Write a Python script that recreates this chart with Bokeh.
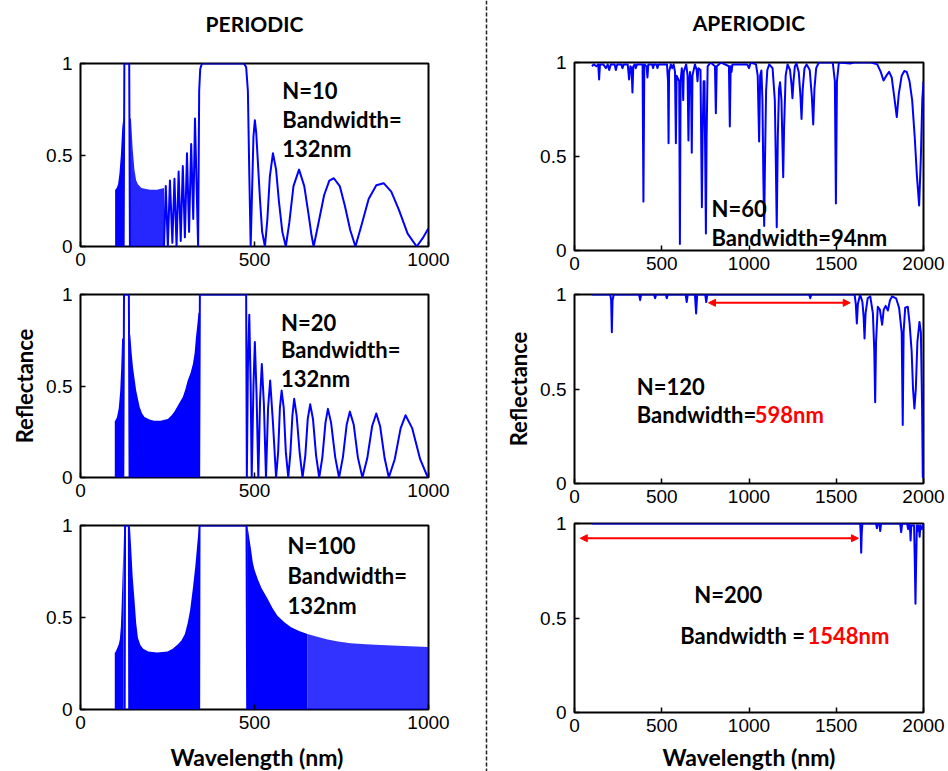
from bokeh.plotting import figure
from bokeh.layouts import row, column
from bokeh.models import (Range1d, FixedTicker, LinearAxis, Label, Arrow,
                          NormalHead, Span)
from bokeh.embed import file_html
from bokeh.resources import INLINE

nan = float("nan")
BLUE = "#0000ff"
RED = "#ff0000"
TICK_FONT = "Liberation Sans"
TXT_FONT = "Lato"

# ---------------- data ----------------
L_XTICKS = [0, 500, 1000]
R_XTICKS = [0, 500, 1000, 1500, 2000]
Y_TICKS = [0, 0.5, 1]

# Periodic N=10
P10_fill1_x = [99.5, 100, 104, 108, 112, 116, 120, 123, 124]
P10_fill1_y = [0.31, 0.31, 0.32, 0.34, 0.40, 0.50, 0.65, 0.70, 0.70]
P10_fill2_x = [142, 145, 150, 155, 160, 165, 175, 185, 200, 220, 240]
P10_fill2_y = [0.70, 0.70, 0.53, 0.42, 0.36, 0.34, 0.32, 0.315, 0.31, 0.31, 0.32]
P10_line_x = [124, 126, 140, 142, nan,
              240, 245, 251, 257, 264, 270, 276, 282, 288, 294, 300, 306, 312, 318, 324, 329, 334, 338,
              341, 344, 349, 470, 476, 481, 485, 489,
              493, 497, 501, 505, 510, 516, 522, 530,
              537, 544, 553, 562, 570, 580, 590,
              600, 612, 628, 643, 655, 664, 670,
              683, 700, 715, 728, 745, 760, 775, 790,
              808, 828, 850, 871, 893, 915, 940, 966,
              985, 1000]
P10_line_y = [0, 1, 1, 0, nan,
              0, 0.33, 0, 0.36, 0.02, 0.37, 0, 0.41, 0.03, 0.44, 0.05, 0.51, 0.08, 0.56, 0.15, 0.70, 0.3, 0,
              0.85, 0.97, 1, 1, 0.98, 0.85, 0.4, 0,
              0.3, 0.6, 0.69, 0.62, 0.45, 0.25, 0.08, 0,
              0.15, 0.38, 0.51, 0.42, 0.25, 0.08, 0,
              0.13, 0.33, 0.42, 0.33, 0.18, 0.06, 0,
              0.12, 0.28, 0.36, 0.373, 0.33, 0.22, 0.09, 0,
              0.12, 0.26, 0.335, 0.346, 0.3, 0.2, 0.07, 0,
              0.05, 0.1]

# Periodic N=20
P20_fill1_x = [98.5, 100, 105, 110, 114, 117, 119.5, 122]
P20_fill1_y = [0.31, 0.31, 0.33, 0.38, 0.47, 0.60, 0.76, 0.76]
P20_fill2_x = [141, 143, 147, 151, 156, 160, 165, 170, 177, 184, 200, 212, 230, 251, 262, 270,
               282, 294, 301, 308, 316, 323, 328, 332, 336, 339, 341]
P20_fill2_y = [0.78, 0.78, 0.68, 0.60, 0.53, 0.475, 0.43, 0.385, 0.35, 0.33, 0.315, 0.31, 0.31, 0.32,
               0.34, 0.36, 0.40, 0.44, 0.48, 0.53, 0.57, 0.62, 0.68, 0.77, 0.84, 0.90, 0.90]
P20_line_x = [123, 125, 139, 141, nan,
              341, 343, 476, 478, 481, 485, 489, 492, 497, 501, 506, 511, 516, 521, 527, 533,
              539, 545, 553, 562, 568, 573, 578, 584, 590, 597, 603, 609, 614, 621, 630, 638,
              646, 653, 660, 668, 677, 686, 695, 704, 711, 720, 732, 743, 754, 765, 774, 785,
              797, 810, 824, 838, 850, 861, 874, 886, 903, 920, 934, 953, 976, 998, 1000]
P20_line_y = [0, 1, 1, 0, nan,
              0, 1, 1, 0, 0.6, 0.89, 0.5, 0, 0.5, 0.74, 0.45, 0, 0.42, 0.62, 0.4, 0,
              0.38, 0.53, 0.3, 0, 0.14, 0.38, 0.475, 0.38, 0.14, 0, 0.13, 0.34, 0.43, 0.34, 0.13, 0,
              0.12, 0.32, 0.40, 0.32, 0.12, 0, 0.11, 0.30, 0.375, 0.30, 0.11, 0, 0.11, 0.29, 0.36, 0.29,
              0.11, 0, 0.105, 0.28, 0.35, 0.28, 0.105, 0, 0.10, 0.27, 0.34, 0.27, 0.10, 0, 0]

# Periodic N=100
P100_fill1_x = [98.5, 100, 106, 110, 113, 116, 118, 120, 122, 124]
P100_fill1_y = [0.31, 0.31, 0.335, 0.355, 0.38, 0.45, 0.55, 0.67, 0.80, 0.95]
P100_fill2_x = [140, 142, 145, 150, 155, 160, 165, 172, 180, 195, 220, 250, 265, 280, 290, 300,
                308, 315, 323, 330, 337, 341]
P100_fill2_y = [1.0, 1.0, 0.9, 0.72, 0.6, 0.47, 0.39, 0.35, 0.33, 0.315, 0.31, 0.315, 0.33, 0.355,
                0.375, 0.41, 0.47, 0.54, 0.66, 0.78, 0.93, 1.0]
P100_fill3_x = [479, 482, 486, 490, 495, 500, 509, 520, 538, 552, 566, 585, 605, 630, 652]
P100_fill3_y = [1.0, 0.97, 0.92, 0.87, 0.8, 0.76, 0.71, 0.66, 0.60, 0.55, 0.51, 0.475, 0.447, 0.425, 0.41]
P100_fill4_x = [652, 680, 710, 740, 776, 820, 862, 930, 1000]
P100_fill4_y = [0.41, 0.395, 0.38, 0.37, 0.36, 0.355, 0.35, 0.345, 0.34]
P100_line_x = [127, 128, 139, 140, nan, 341, 342, 477, 479]
P100_line_y = [0, 1, 1, 0, nan, 0, 1, 1, 0]

# Aperiodic N=60 (wavelength, reflectance)
A60_points = [
    (100, 0.98), (110, 0.99), (125, 0.98), (136, 0.99), (141, 0.91), (146, 0.99), (165, 0.99),
    (180, 0.97), (190, 0.99), (199, 0.96), (208, 0.99), (230, 0.99), (237, 0.96), (245, 0.99),
    (268, 0.99), (275, 0.97), (282, 0.99), (305, 0.99), (313, 0.91), (320, 0.98), (327, 0.97),
    (332, 0.84), (337, 0.98), (345, 0.99), (351, 0.97), (358, 0.99), (390, 0.99), (395, 0.26),
    (400, 0.99), (413, 0.98), (418, 0.92), (423, 0.99), (445, 0.99), (450, 0.97), (456, 0.99),
    (470, 0.99), (475, 0.97), (482, 0.99), (530, 0.99), (536, 0.9), (539, 0.57), (542, 0.95),
    (552, 0.99), (560, 0.97), (568, 0.99), (576, 0.95), (581, 0.57), (585, 0.93), (600, 0.9),
    (604, 0.035), (608, 0.9), (615, 0.97), (620, 0.9), (623, 0.80), (626, 0.95), (640, 0.99),
    (648, 0.93), (653, 0.585), (658, 0.9), (662, 0.95), (668, 0.9), (672, 0.52), (676, 0.93),
    (690, 0.99), (700, 0.96), (705, 0.90), (710, 0.97), (722, 0.96), (727, 0.5), (730, 0.23),
    (734, 0.6), (740, 0.9), (745, 0.9), (750, 0.4), (753, 0.09), (757, 0.6), (763, 0.98),
    (780, 1.0), (805, 0.98), (810, 0.73), (815, 0.98), (840, 1.0), (885, 0.98), (890, 0.66),
    (895, 0.98), (900, 0.95), (905, 0.99), (990, 0.99), (1000, 0.97), (1010, 1.0), (1040, 0.99),
    (1050, 0.93), (1058, 0.58), (1064, 0.93), (1071, 0.957), (1077, 0.8), (1082, 0.4),
    (1087, 0.13), (1092, 0.5), (1098, 0.85), (1105, 0.96), (1116, 0.99), (1135, 0.97),
    (1148, 0.8), (1154, 0.45), (1159, 0.124), (1165, 0.6), (1172, 0.86), (1178, 0.895),
    (1186, 0.8), (1192, 0.55), (1196, 0.39), (1201, 0.65), (1210, 0.93), (1221, 0.99),
    (1235, 0.96), (1244, 0.88), (1249, 0.81), (1255, 0.9), (1263, 0.98), (1272, 0.995),
    (1285, 0.95), (1295, 0.82), (1301, 0.70), (1308, 0.86), (1318, 0.97), (1330, 0.99),
    (1348, 0.96), (1360, 0.82), (1368, 0.67), (1375, 0.86), (1385, 0.97), (1400, 1.0),
    (1480, 1.0), (1492, 0.9), (1498, 0.25), (1504, 0.9), (1515, 1.0), (1580, 0.995),
    (1600, 1.0), (1700, 1.0), (1735, 0.99), (1755, 0.95), (1771, 0.904), (1787, 0.93),
    (1803, 0.95), (1818, 0.92), (1832, 0.82), (1847, 0.71), (1858, 0.83), (1875, 0.93),
    (1890, 0.955), (1904, 0.95), (1920, 0.9), (1935, 0.8), (1950, 0.6), (1962, 0.4),
    (1975, 0.24), (1985, 0.5), (1993, 0.8), (2000, 0.90)]

# Aperiodic N=120
A120_points = [
    (100, 1.0), (205, 1.0), (210, 0.97), (214, 0.80), (218, 0.97), (225, 1.0), (370, 1.0),
    (376, 0.97), (382, 1.0), (455, 1.0), (462, 0.98), (468, 1.0), (523, 1.0), (529, 0.98),
    (535, 1.0), (637, 1.0), (643, 0.96), (649, 1.0), (690, 1.0), (697, 0.90), (703, 1.0),
    (749, 1.0), (755, 0.96), (761, 1.0), (1345, 1.0), (1351, 0.98), (1357, 1.0), (1605, 1.0),
    (1612, 0.95), (1618, 0.847), (1624, 0.95), (1637, 1.0), (1650, 0.96), (1657, 0.88),
    (1662, 0.767), (1668, 0.9), (1680, 0.98), (1695, 0.99), (1710, 0.9), (1718, 0.7),
    (1723, 0.43), (1728, 0.75), (1738, 0.935), (1750, 0.92), (1763, 0.84), (1772, 0.92),
    (1783, 0.94), (1796, 0.915), (1808, 0.97), (1820, 0.99), (1843, 0.98), (1860, 0.93),
    (1875, 0.8), (1881, 0.31), (1886, 0.8), (1895, 0.93), (1910, 0.935), (1920, 0.85),
    (1932, 0.7), (1940, 0.5), (1948, 0.397), (1956, 0.5), (1965, 0.75), (1977, 0.855),
    (1985, 0.8), (1992, 0.4), (1996, 0.035), (2000, 0.03)]

# Aperiodic N=200
A200_points = [
    (100, 1.0), (1637, 1.0), (1640, 0.95), (1643, 0.845), (1646, 0.95), (1650, 1.0),
    (1728, 1.0), (1733, 0.975), (1738, 1.0), (1747, 1.0), (1752, 0.96), (1757, 1.0),
    (1866, 1.0), (1872, 0.954), (1878, 1.0), (1906, 1.0), (1912, 0.97), (1917, 1.0),
    (1922, 0.99), (1926, 0.91), (1930, 0.99), (1946, 0.99), (1950, 0.8), (1954, 0.575),
    (1958, 0.8), (1962, 0.99), (1966, 0.96), (1970, 0.99), (1975, 0.97), (1978, 0.93),
    (1982, 0.99), (1990, 0.97), (2000, 1.0)]

# Bandwidth arrows (wavelength span, reflectance level)
A120_arrow_x = [768, 1580]
A120_arrow_y = 0.956
A200_arrow_x = [33, 1627]
A200_arrow_y = 0.922

# frame borders (pixels) of the two columns
L_ML, L_MR = 80, 56
R_ML, R_MR = 86, 25


# ---------------- helpers ----------------
def panel(w, h, ml, mr, mt, mb, xmax, xticks):
    p = figure(width=w, height=h, x_range=Range1d(0, xmax), y_range=Range1d(0, 1),
               output_backend="svg", toolbar_location=None,
               min_border_left=ml, min_border_right=mr,
               min_border_top=mt, min_border_bottom=mb)
    p.xgrid.visible = False
    p.ygrid.visible = False
    p.outline_line_color = "black"
    p.outline_line_width = 2
    p.outline_line_alpha = 1
    p.background_fill_color = "white"
    p.border_fill_color = "white"
    p.xaxis.ticker = FixedTicker(ticks=xticks)
    p.yaxis.ticker = FixedTicker(ticks=Y_TICKS)
    for ax in (p.xaxis[0], p.yaxis[0]):
        ax.axis_line_color = None
        ax.major_tick_in = 5
        ax.major_tick_out = 0
        ax.major_tick_line_width = 1.5
        ax.minor_tick_line_color = None
        ax.major_label_text_font = TICK_FONT
        ax.major_label_text_font_size = "19px"
        ax.major_label_text_color = "black"
        ax.axis_label_text_font = TXT_FONT
        ax.axis_label_text_font_size = "22px"
        ax.axis_label_text_font_style = "bold"
        ax.axis_label_text_color = "black"
    p.xaxis.major_label_standoff = 6
    p.yaxis.major_label_standoff = 8
    return p


def strip(w, h, ml, mr):
    # plain text strip below a column; x range is in the column's pixel units
    f = figure(width=w, height=h, x_range=Range1d(ml, w - mr), y_range=Range1d(0, h),
               output_backend="svg", toolbar_location=None,
               min_border_left=ml, min_border_right=mr, min_border_top=0, min_border_bottom=0,
               x_axis_location=None, y_axis_location=None)
    f.xgrid.visible = False
    f.ygrid.visible = False
    f.outline_line_color = None
    f.background_fill_color = "white"
    f.border_fill_color = "white"
    return f


def set_title(p, text, standoff):
    top = LinearAxis(ticker=FixedTicker(ticks=[]), axis_label=text,
                     axis_line_color=None, major_tick_in=0, major_tick_out=0,
                     minor_tick_line_color=None, major_label_standoff=0,
                     axis_label_standoff=standoff, axis_label_text_font=TXT_FONT,
                     axis_label_text_font_size="21px", axis_label_text_font_style="bold",
                     axis_label_text_color="black")
    p.add_layout(top, "above")


def txt(p, x, y, text, color="black", size="22px"):
    p.add_layout(Label(x=x, y=y, text=text, text_font=TXT_FONT, text_font_size=size,
                       text_font_style="bold", text_color=color,
                       text_baseline="alphabetic", text_align="left"))


def blue_line(p, xs, ys):
    p.line(xs, ys, line_color=BLUE, line_width=2, line_join="round")


def fill(p, xs, ys, alpha=1.0):
    p.varea(x=xs, y1=[0] * len(xs), y2=ys, fill_color=BLUE, fill_alpha=alpha)


def arrow(p, xs, y):
    p.add_layout(Arrow(x_start=xs[0], y_start=y, x_end=xs[1], y_end=y,
                       line_color=RED, line_width=2,
                       start=NormalHead(size=7, fill_color=RED, line_color=RED),
                       end=NormalHead(size=7, fill_color=RED, line_color=RED)))


# ---------------- left column (periodic) ----------------
L1 = panel(484, 280, L_ML, L_MR, 63, 34, 1000, L_XTICKS)
set_title(L1, "PERIODIC", 28)
fill(L1, P10_fill1_x, P10_fill1_y)
fill(L1, P10_fill2_x, P10_fill2_y, 0.85)
blue_line(L1, P10_line_x, P10_line_y)
txt(L1, 580, 0.851, "N=10")
txt(L1, 580, 0.696, "Bandwidth=")
txt(L1, 580, 0.536, "132nm")

L2 = panel(484, 227, L_ML, L_MR, 14, 30, 1000, L_XTICKS)
L2.yaxis[0].axis_label = "Reflectance"
L2.yaxis[0].axis_label_standoff = 5
fill(L2, P20_fill1_x, P20_fill1_y)
fill(L2, P20_fill2_x, P20_fill2_y)
blue_line(L2, P20_line_x, P20_line_y)
txt(L2, 576, 0.847, "N=20")
txt(L2, 576, 0.698, "Bandwidth=")
txt(L2, 576, 0.541, "132nm")

L3 = panel(484, 232, L_ML, L_MR, 18, 30, 1000, L_XTICKS)
fill(L3, P100_fill1_x, P100_fill1_y)
fill(L3, P100_fill2_x, P100_fill2_y)
fill(L3, P100_fill3_x, P100_fill3_y)
fill(L3, P100_fill4_x, P100_fill4_y, 0.8)
blue_line(L3, P100_line_x, P100_line_y)
txt(L3, 595, 0.89, "N=100")
txt(L3, 595, 0.727, "Bandwidth=")
txt(L3, 595, 0.564, "132nm")

LF = strip(484, 32, L_ML, L_MR)
txt(LF, 170, 15, "Wavelength (nm)", size="23px")

# ---------------- divider ----------------
D = figure(width=4, height=771, x_range=Range1d(0, 1), y_range=Range1d(0, 1),
           output_backend="svg", toolbar_location=None, min_border=0,
           x_axis_location=None, y_axis_location=None)
D.xgrid.visible = False
D.ygrid.visible = False
D.outline_line_color = None
D.add_layout(Span(location=0.5, dimension="height", line_color="#222222",
                  line_dash="4 2", line_width=1.5))

# ---------------- right column (aperiodic) ----------------
R1 = panel(460, 280, R_ML, R_MR, 62, 30, 2000, R_XTICKS)
set_title(R1, "APERIODIC", 28)
x60, y60 = zip(*A60_points)
blue_line(R1, list(x60), list(y60))
txt(R1, 785, 0.224, "N=60")
txt(R1, 785, 0.07, "Bandwidth=94nm")

R2 = panel(460, 232, R_ML, R_MR, 14, 29, 2000, R_XTICKS)
R2.yaxis[0].axis_label = "Reflectance"
R2.yaxis[0].axis_label_standoff = 5
x120, y120 = zip(*A120_points)
blue_line(R2, list(x120), list(y120))
arrow(R2, A120_arrow_x, A120_arrow_y)
txt(R2, 357, 0.513, "N=120")
txt(R2, 357, 0.366, "Bandwidth=")
txt(R2, 1033, 0.366, "598nm", RED)

R3 = panel(460, 229, R_ML, R_MR, 11, 29, 2000, R_XTICKS)
x200, y200 = zip(*A200_points)
blue_line(R3, list(x200), list(y200))
arrow(R3, A200_arrow_x, A200_arrow_y)
txt(R3, 686, 0.626, "N=200")
txt(R3, 606, 0.409, "Bandwidth =")
txt(R3, 1335, 0.409, "1548nm", RED)

RF = strip(460, 30, R_ML, R_MR)
txt(RF, 174, 15, "Wavelength (nm)", size="23px")

left = column(L1, L2, L3, LF, spacing=0)
right = column(R1, R2, R3, RF, spacing=0)
root = row(left, D, right, spacing=0)

open("out.html", "w").write(file_html(root, INLINE))
